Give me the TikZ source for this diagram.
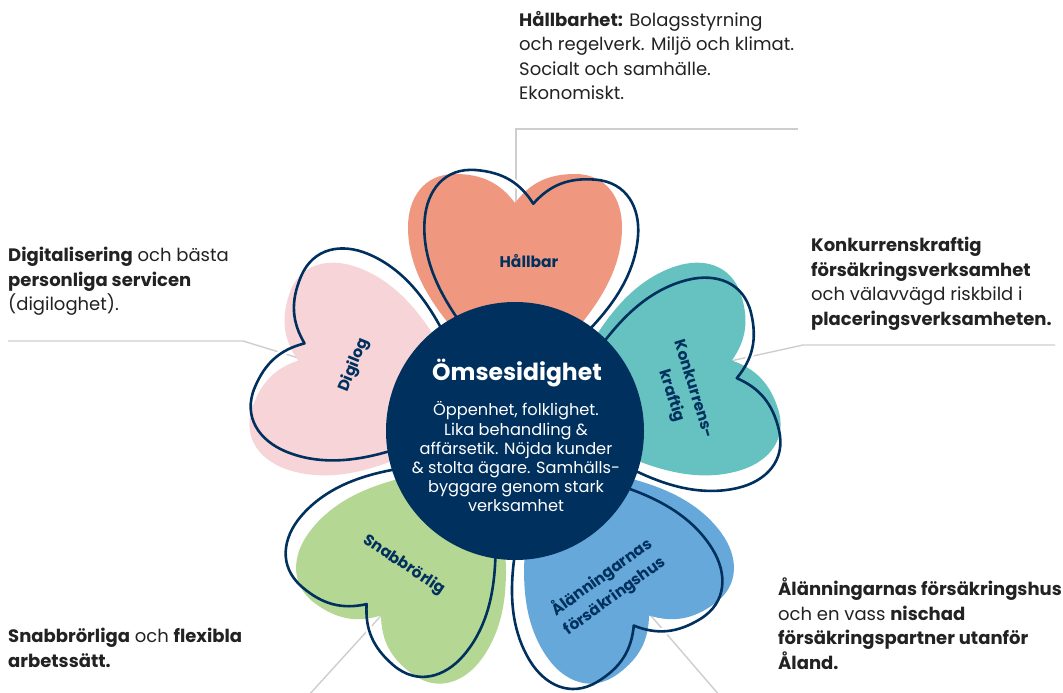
\documentclass[tikz,border=0pt]{standalone}
\usepackage{fontspec}
\setmainfont{Poppins}
\usetikzlibrary{calc}
\definecolor{navy}{RGB}{0,48,94}
\definecolor{salmonc}{RGB}{240,151,128}
\definecolor{pinkc}{RGB}{246,212,215}
\definecolor{tealc}{RGB}{102,194,192}
\definecolor{greenc}{RGB}{180,215,148}
\definecolor{bluec}{RGB}{103,168,219}
\definecolor{linec}{RGB}{206,206,206}
\definecolor{txt}{RGB}{34,34,34}
\tikzset{
  halo/.style={draw=white, line width=7pt, line join=round},
  outl/.style={draw=navy, line width=2.6pt, line join=round},
  conn/.style={draw=linec, line width=1.4pt},
  desc/.style={anchor=north west, inner sep=0pt, align=left, text=txt, font=\fontsize{18}{24.5}\selectfont},
  hlabel/.style={inner sep=0pt, align=center, text=navy, font=\fontsize{15.5}{22.5}\selectfont\bfseries},
}
\newcommand{\petal}[2]{%
  \begin{scope}[shift={(ctr)}, rotate=-(#1+4.6)]
    \path[halo] (0,-228) .. controls (15,-248) and (33,-257) .. (60,-257) .. controls (92,-257) and (107,-232) .. (107,-204) .. controls (107,-138) and (50,-88) .. (0,-38) .. controls (-50,-88) and (-107,-138) .. (-107,-204) .. controls (-107,-232) and (-92,-257) .. (-60,-257) .. controls (-33,-257) and (-15,-248) .. (0,-228) -- cycle;
  \end{scope}
  \begin{scope}[shift={(ctr)}, rotate=-(#1)]
    \fill[#2] (0,-228) .. controls (15,-248) and (33,-257) .. (60,-257) .. controls (92,-257) and (107,-232) .. (107,-204) .. controls (107,-138) and (50,-88) .. (0,-38) .. controls (-50,-88) and (-107,-138) .. (-107,-204) .. controls (-107,-232) and (-92,-257) .. (-60,-257) .. controls (-33,-257) and (-15,-248) .. (0,-228) -- cycle;
  \end{scope}
  \begin{scope}[shift={(ctr)}, rotate=-(#1+4.6)]
    \path[outl] (0,-228) .. controls (15,-248) and (33,-257) .. (60,-257) .. controls (92,-257) and (107,-232) .. (107,-204) .. controls (107,-138) and (50,-88) .. (0,-38) .. controls (-50,-88) and (-107,-138) .. (-107,-204) .. controls (-107,-232) and (-92,-257) .. (-60,-257) .. controls (-33,-257) and (-15,-248) .. (0,-228) -- cycle;
  \end{scope}}
\begin{document}
\begin{tikzpicture}[x=1pt, y=-1pt]
\useasboundingbox[fill=white] (0,0) rectangle (1063,693);
\coordinate (ctr) at (515,431);
% connector anchor points
\coordinate (cH) at (516,212);
\coordinate (bH) at (516,129);
\coordinate (eH) at (798,129);
\coordinate (cD) at (305,360);
\coordinate (bD) at (243,341);
\coordinate (eD) at (8,341);
\coordinate (cK) at (726,362);
\coordinate (bK) at (803,345);
\coordinate (eK) at (1055,345);
\coordinate (cA) at (646,610);
\coordinate (eA) at (720,696);
\coordinate (cS) at (388,608);
\coordinate (eS) at (308,696);
\draw[conn] (cH) -- (bH) -- (eH);
\draw[conn] (cD) -- (bD) -- (eD);
\draw[conn] (cK) -- (bK) -- (eK);
\draw[conn] (cA) -- (eA);
\draw[conn] (cS) -- (eS);
% petals
\petal{288}{pinkc}
\petal{216}{greenc}
\petal{144}{bluec}
\petal{72}{tealc}
\petal{0}{salmonc}
% centre
\node[circle, fill=navy, minimum size=258pt, inner sep=0pt] (core) at (ctr) {};
\node[text=white, inner sep=0pt, font=\fontsize{23.5}{30}\selectfont\bfseries] (title) at (517,373) {Ömsesidighet};
\node[text=white, inner sep=0pt, align=center, font=\fontsize{16.2}{19.2}\selectfont] (body) at (516,457) {Öppenhet, folklighet.\\Lika behandling \&\\affärsetik. Nöjda kunder\\\& stolta ägare. Samhälls-\\byggare genom stark\\verksamhet};
% petal labels
\node[hlabel] (lH) at (529,261) {Hållbar};
\node[hlabel, rotate=68] (lD) at (354,365) {Digilog};
\node[hlabel, rotate=-73] (lK) at (682,393) {Konkurrens-\\kraftig};
\node[hlabel, rotate=36] (lA) at (608,586) {Ålänningarnas\\försäkringshus};
\node[hlabel, rotate=-34] (lS) at (404,565) {Snabbrörlig};
% descriptions
\node[desc] (tH) at (519,11) {\textbf{Hållbarhet:} Bolagsstyrning\\och regelverk. Miljö och klimat.\\Socialt och samhälle.\\Ekonomiskt.};
\node[desc] (tD) at (8,247) {\textbf{Digitalisering} och bästa\\\textbf{personliga servicen}\\(digiloghet).};
\node[desc] (tK) at (811,237) {\textbf{Konkurrenskraftig}\\\textbf{försäkringsverksamhet}\\och välavvägd riskbild i\\\textbf{placeringsverksamheten.}};
\node[desc] (tA) at (778,578) {\textbf{Ålänningarnas försäkringshus}\\och en vass \textbf{nischad}\\\textbf{försäkringspartner utanför}\\\textbf{Åland.}};
\node[desc] (tS) at (8,628) {\textbf{Snabbrörliga} och \textbf{flexibla}\\\textbf{arbetssätt.}};
\end{tikzpicture}
\end{document}
